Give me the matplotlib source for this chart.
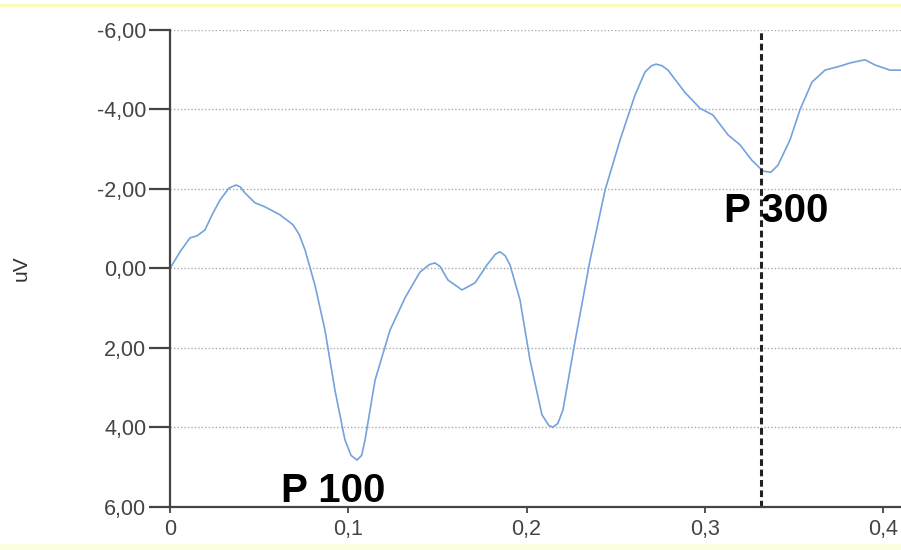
import matplotlib
matplotlib.use('Agg')
import matplotlib.pyplot as plt
from matplotlib.lines import Line2D
from matplotlib.ticker import FuncFormatter

# ERP waveform (time in s, amplitude in uV)
time_s = [0.0, 0.0056, 0.0112, 0.0151, 0.0196, 0.0236, 0.028, 0.033, 0.037, 0.0395,
          0.042, 0.0477, 0.0533, 0.0617, 0.069, 0.0725, 0.0757, 0.0813, 0.0869, 0.0925,
          0.0981, 0.1015, 0.1049, 0.1075, 0.1094, 0.115, 0.1234, 0.1318, 0.1402, 0.1455,
          0.1486, 0.1515, 0.1559, 0.1638, 0.1711, 0.1778, 0.1825, 0.1851, 0.188, 0.1907,
          0.1963, 0.2019, 0.2086, 0.2125, 0.2148, 0.2175, 0.2204, 0.2271, 0.2356, 0.244,
          0.2524, 0.2608, 0.2664, 0.2700, 0.2726, 0.2760, 0.2793, 0.2888, 0.2973, 0.3045,
          0.313, 0.3197, 0.3264, 0.3326, 0.3370, 0.341, 0.3477, 0.3533, 0.3601, 0.3674,
          0.3758, 0.3814, 0.3898, 0.3954, 0.4038, 0.41]
amp_uv = [0.0, -0.42, -0.77, -0.82, -0.97, -1.35, -1.72, -2.02, -2.10, -2.05,
          -1.90, -1.65, -1.55, -1.35, -1.10, -0.85, -0.47, 0.42, 1.55, 3.06,
          4.31, 4.70, 4.82, 4.70, 4.31, 2.81, 1.55, 0.74, 0.09, -0.10,
          -0.14, -0.05, 0.29, 0.54, 0.36, -0.09, -0.36, -0.42, -0.32, -0.09,
          0.79, 2.30, 3.68, 3.95, 3.99, 3.90, 3.56, 1.85, -0.21, -1.97,
          -3.23, -4.36, -4.94, -5.10, -5.14, -5.10, -4.99, -4.43, -4.03, -3.86,
          -3.36, -3.11, -2.72, -2.45, -2.42, -2.60, -3.23, -3.99, -4.69, -4.99,
          -5.09, -5.17, -5.25, -5.12, -4.99, -4.99]

y_ticks = [-6, -4, -2, 0, 2, 4, 6]
x_ticks = [0, 0.1, 0.2, 0.3, 0.4]
p300_time = 0.3315
p100_label = (0.0914, 5.6)
p300_label = (0.340, -1.45)

plt.rcParams['font.family'] = ['Liberation Sans', 'DejaVu Sans']

fig = plt.figure(figsize=(9.01, 5.5), dpi=100)
ax = fig.add_axes([0.1887, 0.0782, 0.8113, 0.8673])

ax.plot(time_s, amp_uv, color='#74a2dc', linewidth=1.2, solid_joinstyle='round')
ax.axvline(p300_time, color='#222222', linewidth=2.2, linestyle=(0, (2.2, 1.2)))

ax.set_xlim(0, 0.41)
ax.set_ylim(6, -6)
ax.set_yticks(y_ticks)
ax.set_xticks(x_ticks)

comma = lambda v, fmt: (fmt % v).replace('.', ',')
ax.yaxis.set_major_formatter(FuncFormatter(lambda v, p: comma(v, '%.2f').replace('-0,00', '0,00')))
ax.xaxis.set_major_formatter(FuncFormatter(lambda v, p: '0' if v == 0 else comma(v, '%.1f')))

for g in y_ticks[:-1]:
    ax.axhline(g, color='#aaaaaa', linewidth=1, linestyle=(0, (1, 1.5)), zorder=0)

for s in ['top', 'right']:
    ax.spines[s].set_visible(False)
for s in ['left', 'bottom']:
    ax.spines[s].set_color('#444444')
    ax.spines[s].set_linewidth(1.6)

ax.tick_params(axis='y', length=15, width=1.6, color='#444444', labelsize=15.5,
               labelcolor='#444444', pad=2)
ax.tick_params(axis='x', length=4, width=1.3, color='#444444', labelsize=15.5,
               labelcolor='#444444', pad=5)

ax.set_ylabel('uV', fontsize=15, color='#333333')
ax.yaxis.set_label_coords(-0.191, 0.5)

ax.text(p100_label[0], p100_label[1], 'P 100', fontsize=29, fontweight='bold',
        ha='center', va='center', color='black')
ax.text(p300_label[0], p300_label[1], 'P 300', fontsize=29, fontweight='bold',
        ha='center', va='center', color='black')

fig.add_artist(Line2D([0, 1], [0.991, 0.991], transform=fig.transFigure,
                      color='#fbfbb0', linewidth=2))
fig.add_artist(Line2D([0, 1], [0.006, 0.006], transform=fig.transFigure,
                      color='#fdfde0', linewidth=5))

fig.savefig('out.png', dpi=100)
